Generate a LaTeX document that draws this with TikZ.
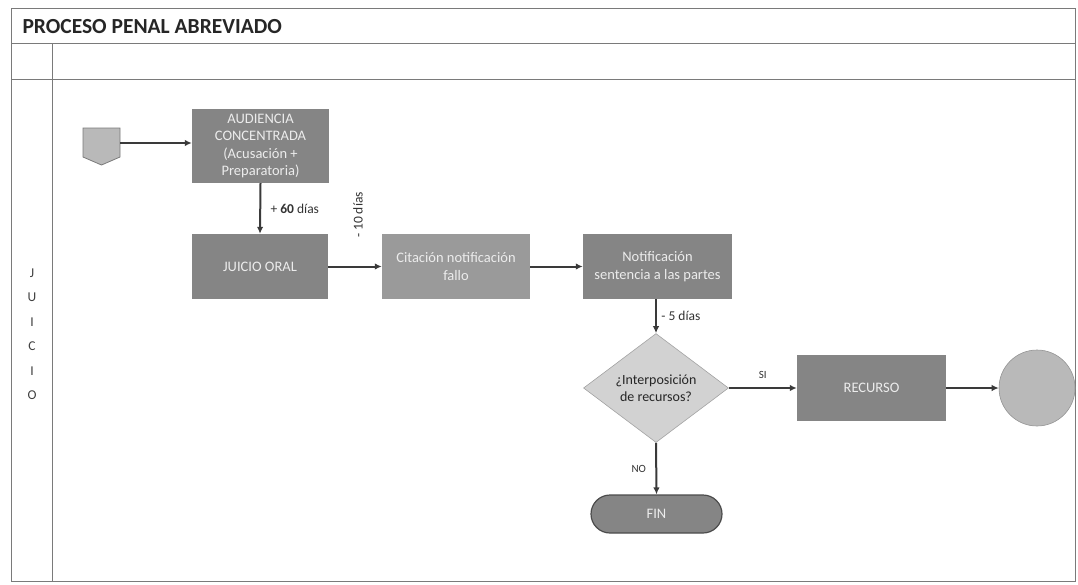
\documentclass[tikz,border=0pt]{standalone}
\usepackage{fontspec}
\setmainfont{Carlito}
\usetikzlibrary{shapes.geometric,arrows.meta}
\definecolor{frame}{HTML}{7A7A7A}
\definecolor{boxdark}{HTML}{858585}
\definecolor{boxmid}{HTML}{9A9A9A}
\definecolor{dia}{HTML}{D2D2D2}
\definecolor{circ}{HTML}{B9B9B9}
\definecolor{boxtext}{HTML}{ECECEC}
\definecolor{arrowc}{HTML}{3A3A3A}
\begin{document}
\begin{tikzpicture}[x=1pt,y=-1pt,
  procbox/.style={rectangle, fill=boxdark, text=boxtext, align=center,
    font=\fontsize{14.5}{17.5}\selectfont, inner sep=2pt},
  flow/.style={draw=arrowc, line width=2pt, -{Latex[length=7pt,width=6.5pt]}},
  lbl/.style={font=\fontsize{13.5}{16}\selectfont, text=black!80},
  small/.style={font=\fontsize{11}{13}\selectfont, text=black!80},
  gridline/.style={draw=frame, line width=1pt}]
\useasboundingbox (0,0) rectangle (1078,584);
% frame
\draw[gridline] (11,8) rectangle (1075,581);
\draw[gridline] (11,43) -- (1075,43);
\draw[gridline] (11,79) -- (1075,79);
\draw[gridline] (52,43) -- (52,581);
\node[anchor=west, font=\fontsize{21.5}{24}\selectfont\bfseries, text=black!85] (title) at (19,27) {PROCESO PENAL ABREVIADO};
% lane label
\node[font=\fontsize{13.5}{24.5}\selectfont, text=black!75, align=center] (lane) at (32,334)
  {J\\U\\I\\C\\I\\O};
% start connector
\filldraw[fill=circ, draw=frame, line width=0.8pt] (83,128) -- (120,128) -- (120,157) -- (101.5,165) -- (83,157) -- cycle;
\coordinate (start) at (120,143);
% nodes
\node[procbox, minimum width=137pt, minimum height=74pt] (aud) at (260.5,146)
  {AUDIENCIA\\CONCENTRADA\\(Acusación +\\Preparatoria)};
\node[procbox, minimum width=136pt, minimum height=65pt] (juicio) at (260,266.5) {JUICIO ORAL};
\node[procbox, fill=boxmid, minimum width=148pt, minimum height=65pt] (cit) at (456,266.5) {Citación notificación\\fallo};
\node[procbox, minimum width=149pt, minimum height=65pt] (notif) at (657.5,266.5) {Notificación\\sentencia a las partes};
\node[diamond, fill=dia, draw=frame!70, line width=0.6pt, aspect=1.33, minimum width=145pt, minimum height=109pt,
  inner sep=0pt, align=center, font=\fontsize{14}{17}\selectfont, text=black!85] (dec) at (656,388)
  {¿Interposición\\de recursos?};
\node[procbox, minimum width=149pt, minimum height=66pt] (rec) at (871.5,388) {RECURSO};
\node[circle, fill=circ, draw=frame!80, line width=0.6pt, minimum size=76pt, inner sep=0pt] (endc) at (1037,388) {};
\node[procbox, rounded corners=19pt, draw=black!70, line width=1.2pt, minimum width=131pt, minimum height=38pt] (fin) at (656.5,514) {FIN};
% connectors
\draw[flow] (start) -- (aud.west |- start);
\draw[flow] (aud.south) -- node[lbl, right=6pt] {+ \textbf{60} días} (juicio.north);
\draw[flow] (juicio) -- (cit);
\node[lbl, rotate=90] (diez) at (358,215) {-~10 días};
\draw[flow] (cit) -- (notif);
\draw[flow] (notif.south -| dec.north) -- node[lbl, right=1pt] {- 5 días} (dec.north);
\draw[flow] (dec.east) -- node[small, above=5pt] {SI} (rec.west);
\draw[flow] (rec.east) -- (endc.west);
\draw[flow] (dec.south) -- node[small, left=6pt] {NO} (fin.north);
\end{tikzpicture}
\end{document}
